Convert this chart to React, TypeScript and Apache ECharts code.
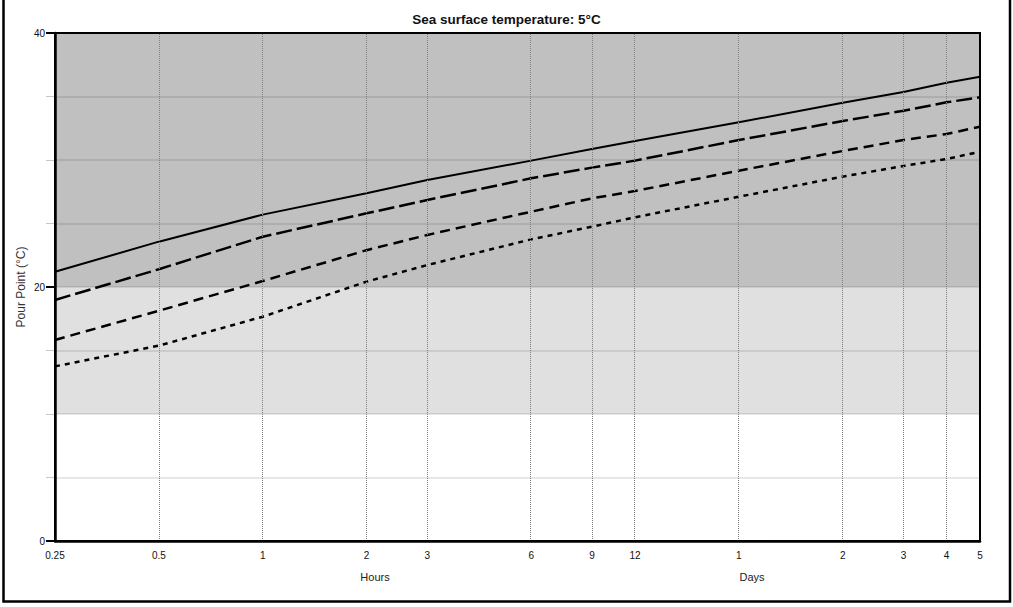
import React, { useEffect, useRef } from "react";
import * as echarts from "echarts";

// Elapsed time (hours) and the labels printed under each tick
const hours = [0.25, 0.5, 1, 2, 3, 6, 9, 12, 24, 48, 72, 96, 120];
const tickLabels = ["0.25", "0.5", "1", "2", "3", "6", "9", "12", "1", "2", "3", "4", "5"];
const unitNames = ["Hours", "Days"];

// Pour point (°C) of the four curves at each tick
const solidSeries = [21.2, 23.57, 25.7, 27.38, 28.43, 29.95, 30.87, 31.5, 32.97, 34.5, 35.35, 36.09, 36.56];
const longDashSeries = [18.98, 21.4, 23.96, 25.8, 26.85, 28.56, 29.4, 29.95, 31.57, 33.07, 33.88, 34.54, 34.94];
const mediumDashSeries = [15.83, 18.13, 20.47, 22.9, 24.1, 25.93, 26.98, 27.56, 29.16, 30.71, 31.57, 32.05, 32.62];
const shortDashSeries = [13.75, 15.38, 17.66, 20.42, 21.73, 23.75, 24.75, 25.49, 27.11, 28.69, 29.53, 30.08, 30.65];

// Y axis
const yLabelValues = [0, 20, 40];
const yGridValues = [5, 10, 15, 20, 25, 30, 35];
const bandBounds = [
  [20, 40],
  [10, 20],
];

const FONT = "'Liberation Sans', Arial, sans-serif";

export default function App() {
  const ref = useRef<HTMLDivElement>(null);

  useEffect(() => {
    if (!ref.current) return;
    const chart = echarts.init(ref.current, undefined, { renderer: "svg" });
    const xs = hours.map((h) => Math.log2(h));
    const bandColors = ["#c0c0c0", "#e0e0e0"];
    const toPairs = (arr: number[]) => arr.map((v, i) => [xs[i], v]);
    const labelFor = (v: number) => {
      const i = xs.findIndex((x) => Math.abs(x - v) < 1e-6);
      return i >= 0 ? tickLabels[i] : "";
    };

    const lineSeries = (data: number[], type: any, width: number) => ({
      type: "line",
      data: toPairs(data),
      symbol: "none",
      z: 4,
      silent: true,
      lineStyle: { color: "#000", width, type },
    });

    chart.setOption({
      animation: false,
      title: {
        text: "Sea surface temperature: 5°C",
        left: "center",
        top: 7,
        textStyle: { fontFamily: FONT, fontSize: 13.5, fontWeight: "bold", color: "#111" },
      },
      grid: {
        left: 55,
        right: 33,
        top: 33,
        bottom: 66,
        show: true,
        backgroundColor: "transparent",
        borderColor: "#000",
        borderWidth: 2,
        z: 10,
      },
      xAxis: {
        type: "value",
        min: xs[0],
        max: xs[xs.length - 1],
        z: 10,
        axisLine: { show: true, onZero: false, lineStyle: { color: "#000", width: 2.5 } },
        axisTick: { show: false },
        splitLine: { show: false },
        axisLabel: {
          customValues: xs,
          formatter: (v: number) => labelFor(v),
          fontFamily: FONT,
          fontSize: 10,
          color: "#111",
          margin: 9,
        },
      },
      yAxis: [
        {
          type: "value",
          min: 0,
          max: 40,
          interval: 5,
          position: "left",
          z: 10,
          axisLine: { show: true, onZero: false, lineStyle: { color: "#000", width: 2.5 } },
          axisTick: { show: true, customValues: yLabelValues, length: 9, lineStyle: { color: "#000", width: 2 } },
          splitLine: { show: false },
          axisLabel: {
            customValues: yLabelValues,
            fontFamily: FONT,
            fontSize: 10,
            color: "#111",
            margin: 10,
          },
          name: "Pour Point (°C)",
          nameLocation: "middle",
          nameGap: 28,
          nameMoveOverlap: false,
          nameTextStyle: { fontFamily: FONT, fontSize: 12, color: "#333" },
        },
        {
          type: "value",
          min: 0,
          max: 40,
          interval: 5,
          position: "left",
          z: 1,
          axisLine: { show: false, onZero: false },
          axisTick: { show: true, length: 9, lineStyle: { color: "#c8c8c8", width: 1 } },
          splitLine: { show: false },
          axisLabel: { show: false },
        },
      ],
      graphic: [
        {
          type: "rect",
          shape: { x: 3.5, y: -5, width: 1006.5, height: 606.5 },
          style: { fill: "none", stroke: "#000", lineWidth: 2.5 },
          silent: true,
        },
        {
          type: "text",
          x: 375,
          y: 577,
          style: { text: unitNames[0], fontFamily: FONT, fontSize: 11, fill: "#222", align: "center", verticalAlign: "middle" },
        },
        {
          type: "text",
          x: 752,
          y: 577,
          style: { text: unitNames[1], fontFamily: FONT, fontSize: 11, fill: "#222", align: "center", verticalAlign: "middle" },
        },
      ],
      series: [
        {
          type: "line",
          data: [],
          z: 1,
          silent: true,
          markArea: {
            silent: true,
            data: bandBounds.map((b, i) => [
              { yAxis: b[0], itemStyle: { color: bandColors[i] } },
              { yAxis: b[1] },
            ]),
          },
        },
        {
          type: "line",
          data: [],
          z: 2,
          silent: true,
          markLine: {
            silent: true,
            symbol: "none",
            label: { show: false },
            data: [
              ...yGridValues.map((y) => ({
                yAxis: y,
                lineStyle: { color: "rgba(0,0,0,0.13)", width: 1.5, type: "solid" },
              })),
              ...xs.slice(1, -1).map((x) => ({
                xAxis: x,
                lineStyle: { color: "#808080", width: 1, type: "dotted" },
              })),
            ],
          },
        },
        lineSeries(solidSeries, "solid", 2),
        lineSeries(longDashSeries, [16, 5], 2.5),
        lineSeries(mediumDashSeries, [10, 6], 2.5),
        lineSeries(shortDashSeries, [5, 5], 2.5),
      ],
    });

    return () => chart.dispose();
  }, []);

  return (
    <div
      ref={ref}
      style={{ position: "fixed", left: 0, top: 0, width: 1013, height: 607, background: "#fff" }}
    />
  );
}
